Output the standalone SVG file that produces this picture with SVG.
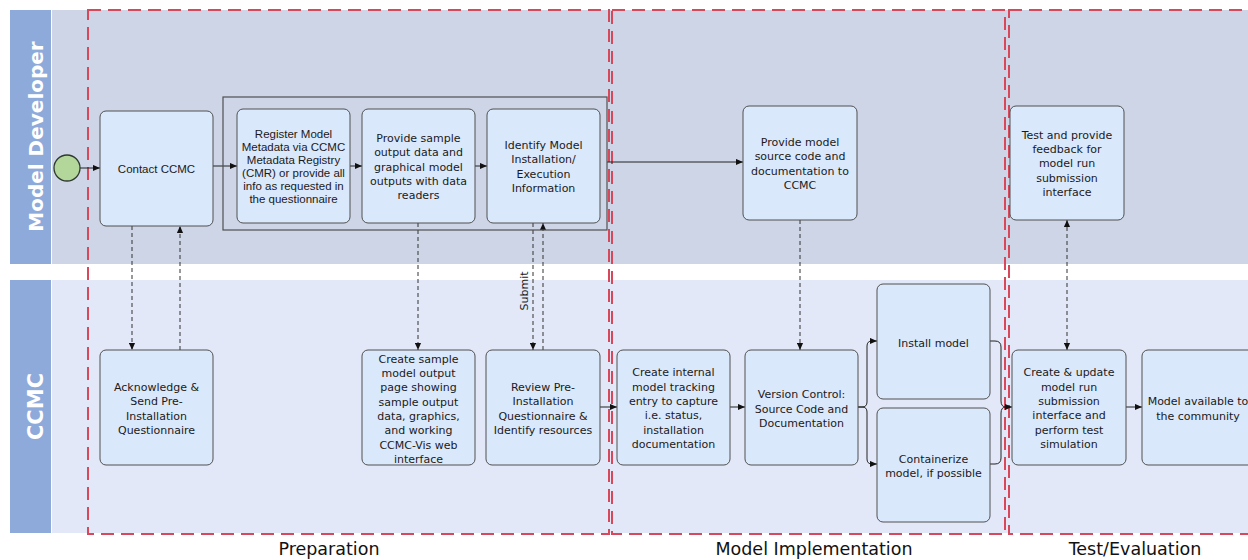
<svg xmlns="http://www.w3.org/2000/svg" width="1248" height="560" viewBox="0 0 1248 560">
<defs>
<style>
.lanebar{fill:#8eaadb}
.lanelbl{font-family:"DejaVu Sans","Liberation Sans",sans-serif;font-weight:bold;fill:#ffffff}
.phase{fill:none;stroke:#d9485a;stroke-width:2;stroke-dasharray:13 7}
.phlbl{font-family:"DejaVu Sans","Noto Sans",sans-serif;font-size:17.5px;fill:#111;text-anchor:middle}
.box{fill:#dae8fb;stroke:#505050;stroke-width:1}
.grp{fill:none;stroke:#505050;stroke-width:1.2}
.t{font-family:"DejaVu Sans","Noto Sans",sans-serif;font-size:11px;fill:#1a1a1a;text-anchor:middle}
.ta{font-family:"Liberation Sans",Arial,sans-serif;font-size:11.5px;fill:#1a1a1a;text-anchor:middle}
.solid{fill:none;stroke:#222;stroke-width:1}
.dash{fill:none;stroke:#333;stroke-width:1;stroke-dasharray:4 3}
</style>
<marker id="ah" viewBox="0 0 8 8" refX="8" refY="4" markerWidth="7" markerHeight="7" markerUnits="userSpaceOnUse" orient="auto-start-reverse">
<path d="M0,0.5 L8,4 L0,7.5 z" fill="#111"/>
</marker>
</defs>

<g id="lanes">
<rect x="52" y="10" width="1196" height="254" fill="#cdd5e7"/>
<rect x="52" y="280" width="1196" height="253" fill="#e3e8f8"/>
<rect class="lanebar" x="10" y="10" width="41" height="254"/>
<rect class="lanebar" x="10" y="280" width="41" height="253"/>
<text class="lanelbl" font-size="20" transform="translate(42.5,136.5) rotate(-90)" text-anchor="middle">Model Developer</text>
<text class="lanelbl" font-size="21" transform="translate(43,406.5) rotate(-90)" text-anchor="middle">CCMC</text>
</g>

<g id="phases">
<rect class="phase" x="88" y="10" width="521" height="524"/>
<rect class="phase" x="612" y="10" width="393" height="524"/>
<rect class="phase" x="1009" y="10" width="260" height="524"/>
<text class="phlbl" x="329" y="555">Preparation</text>
<text class="phlbl" x="814" y="555">Model Implementation</text>
<text class="phlbl" x="1135" y="555">Test/Evaluation</text>
</g>

<g id="connectors">
<path class="solid" d="M80,168 H100" marker-end="url(#ah)"/>
<path class="solid" d="M213,166 H237" marker-end="url(#ah)"/>
<path class="solid" d="M350,166 H362" marker-end="url(#ah)"/>
<path class="solid" d="M475,166 H487" marker-end="url(#ah)"/>
<path class="solid" d="M607,162 H743" marker-end="url(#ah)"/>
<path class="dash" d="M132,226 V350" marker-end="url(#ah)"/>
<path class="dash" d="M180,350 V226" marker-end="url(#ah)"/>
<path class="dash" d="M418,223 V350" marker-end="url(#ah)"/>
<path class="dash" d="M533,223 V350" marker-end="url(#ah)"/>
<path class="dash" d="M543,350 V223" marker-end="url(#ah)"/>
<text class="t" transform="translate(528,291) rotate(-90)">Submit</text>
<path class="dash" d="M800,220 V350" marker-end="url(#ah)"/>
<path class="dash" d="M1067,220 V350" marker-start="url(#ah)" marker-end="url(#ah)"/>
<path class="solid" d="M600,407 H617" marker-end="url(#ah)"/>
<path class="solid" d="M730,407 H745" marker-end="url(#ah)"/>
<path class="solid" d="M858,407 H862 Q867,407 867,402 V346 Q867,341 872,341 H877" marker-end="url(#ah)"/>
<path class="solid" d="M858,407 H862 Q867,407 867,412 V459 Q867,464 872,464 H877" marker-end="url(#ah)"/>
<path class="solid" d="M990,341 H995 Q1001,341 1001,347 V401 Q1001,407 1006,407 H1012" marker-end="url(#ah)"/>
<path class="solid" d="M990,464 H995 Q1001,464 1001,458 V413 Q1001,407 1006,407"/>
<path class="solid" d="M1126,407 H1142" marker-end="url(#ah)"/>
</g>

<g id="start">
<circle cx="67" cy="168" r="13" fill="#b3d69a" stroke="#2f3a2f" stroke-width="1.3"/>
</g>

<g id="contact-ccmc">
<rect class="box" x="100" y="111" width="113" height="115" rx="6"/>
<text class="ta" x="156.5" y="173" font-size="12.5">Contact CCMC</text>
</g>

<g id="prep-group">
<rect class="grp" x="223" y="97" width="384" height="133"/>
</g>

<g id="register">
<rect class="box" x="237" y="109" width="113" height="114" rx="6"/>
<text class="ta" x="293.5" y="137.5">Register Model</text>
<text class="ta" x="293.5" y="150.5">Metadata via CCMC</text>
<text class="ta" x="293.5" y="163.5">Metadata Registry</text>
<text class="ta" x="293.5" y="176.5">(CMR) or provide all</text>
<text class="ta" x="293.5" y="189.5">info as requested in</text>
<text class="ta" x="293.5" y="202.5">the questionnaire</text>
</g>

<g id="provide-sample">
<rect class="box" x="362" y="109" width="113" height="114" rx="6"/>
<text class="t" x="418.5" y="141.5">Provide sample</text>
<text class="t" x="418.5" y="156">output data and</text>
<text class="t" x="418.5" y="170.5">graphical model</text>
<text class="t" x="418.5" y="184.5">outputs with data</text>
<text class="t" x="418.5" y="199">readers</text>
</g>

<g id="identify">
<rect class="box" x="487" y="109" width="113" height="114" rx="6"/>
<text class="t" x="543.5" y="148.5">Identify Model</text>
<text class="t" x="543.5" y="163">Installation/</text>
<text class="t" x="543.5" y="177.5">Execution</text>
<text class="t" x="543.5" y="192">Information</text>
</g>

<g id="provide-source">
<rect class="box" x="743" y="106" width="114" height="114" rx="6"/>
<text class="t" x="800" y="146">Provide model</text>
<text class="t" x="800" y="160.3">source code and</text>
<text class="t" x="800" y="174.6">documentation to</text>
<text class="t" x="800" y="189">CCMC</text>
</g>

<g id="test-feedback">
<rect class="box" x="1010" y="106" width="114" height="114" rx="6"/>
<text class="t" x="1067" y="138.6">Test and provide</text>
<text class="t" x="1067" y="153">feedback for</text>
<text class="t" x="1067" y="167.4">model run</text>
<text class="t" x="1067" y="181.8">submission</text>
<text class="t" x="1067" y="196.2">interface</text>
</g>

<g id="acknowledge">
<rect class="box" x="100" y="350" width="113" height="115" rx="6"/>
<text class="t" x="156.5" y="391">Acknowledge &amp;</text>
<text class="t" x="156.5" y="405.3">Send Pre-</text>
<text class="t" x="156.5" y="419.6">Installation</text>
<text class="t" x="156.5" y="434">Questionnaire</text>
</g>

<g id="create-sample">
<rect class="box" x="362" y="350" width="113" height="115" rx="6"/>
<text class="t" x="418.5" y="362.6">Create sample</text>
<text class="t" x="418.5" y="377">model output</text>
<text class="t" x="418.5" y="391.3">page showing</text>
<text class="t" x="418.5" y="405.6">sample output</text>
<text class="t" x="418.5" y="420">data, graphics,</text>
<text class="t" x="418.5" y="434.3">and working</text>
<text class="t" x="418.5" y="448.6">CCMC-Vis web</text>
<text class="t" x="418.5" y="463">interface</text>
</g>

<g id="review">
<rect class="box" x="486" y="350" width="114" height="115" rx="6"/>
<text class="t" x="543" y="391">Review Pre-</text>
<text class="t" x="543" y="405.3">Installation</text>
<text class="t" x="543" y="419.6">Questionnaire &amp;</text>
<text class="t" x="543" y="434">Identify resources</text>
</g>

<g id="create-internal">
<rect class="box" x="617" y="350" width="113" height="115" rx="6"/>
<text class="t" x="673.5" y="376.3">Create internal</text>
<text class="t" x="673.5" y="390.6">model tracking</text>
<text class="t" x="673.5" y="405">entry to capture</text>
<text class="t" x="673.5" y="419.3">i.e. status,</text>
<text class="t" x="673.5" y="433.6">installation</text>
<text class="t" x="673.5" y="448">documentation</text>
</g>

<g id="version-control">
<rect class="box" x="745" y="350" width="113" height="115" rx="6"/>
<text class="t" x="801.5" y="398.3">Version Control:</text>
<text class="t" x="801.5" y="412.6">Source Code and</text>
<text class="t" x="801.5" y="427">Documentation</text>
</g>

<g id="install-model">
<rect class="box" x="877" y="284" width="113" height="115" rx="6"/>
<text class="t" x="933.5" y="346.6">Install model</text>
</g>

<g id="containerize">
<rect class="box" x="877" y="408" width="113" height="114" rx="6"/>
<text class="t" x="933.5" y="463">Containerize</text>
<text class="t" x="933.5" y="477">model, if possible</text>
</g>

<g id="create-update">
<rect class="box" x="1012" y="350" width="114" height="115" rx="6"/>
<text class="t" x="1069" y="376.3">Create &amp; update</text>
<text class="t" x="1069" y="390.6">model run</text>
<text class="t" x="1069" y="405">submission</text>
<text class="t" x="1069" y="419.3">interface and</text>
<text class="t" x="1069" y="433.6">perform test</text>
<text class="t" x="1069" y="448">simulation</text>
</g>

<g id="model-available">
<rect class="box" x="1142" y="350" width="114" height="115" rx="6"/>
<text class="t" x="1198" y="405.3">Model available to</text>
<text class="t" x="1198" y="419.6">the community</text>
</g>
</svg>
